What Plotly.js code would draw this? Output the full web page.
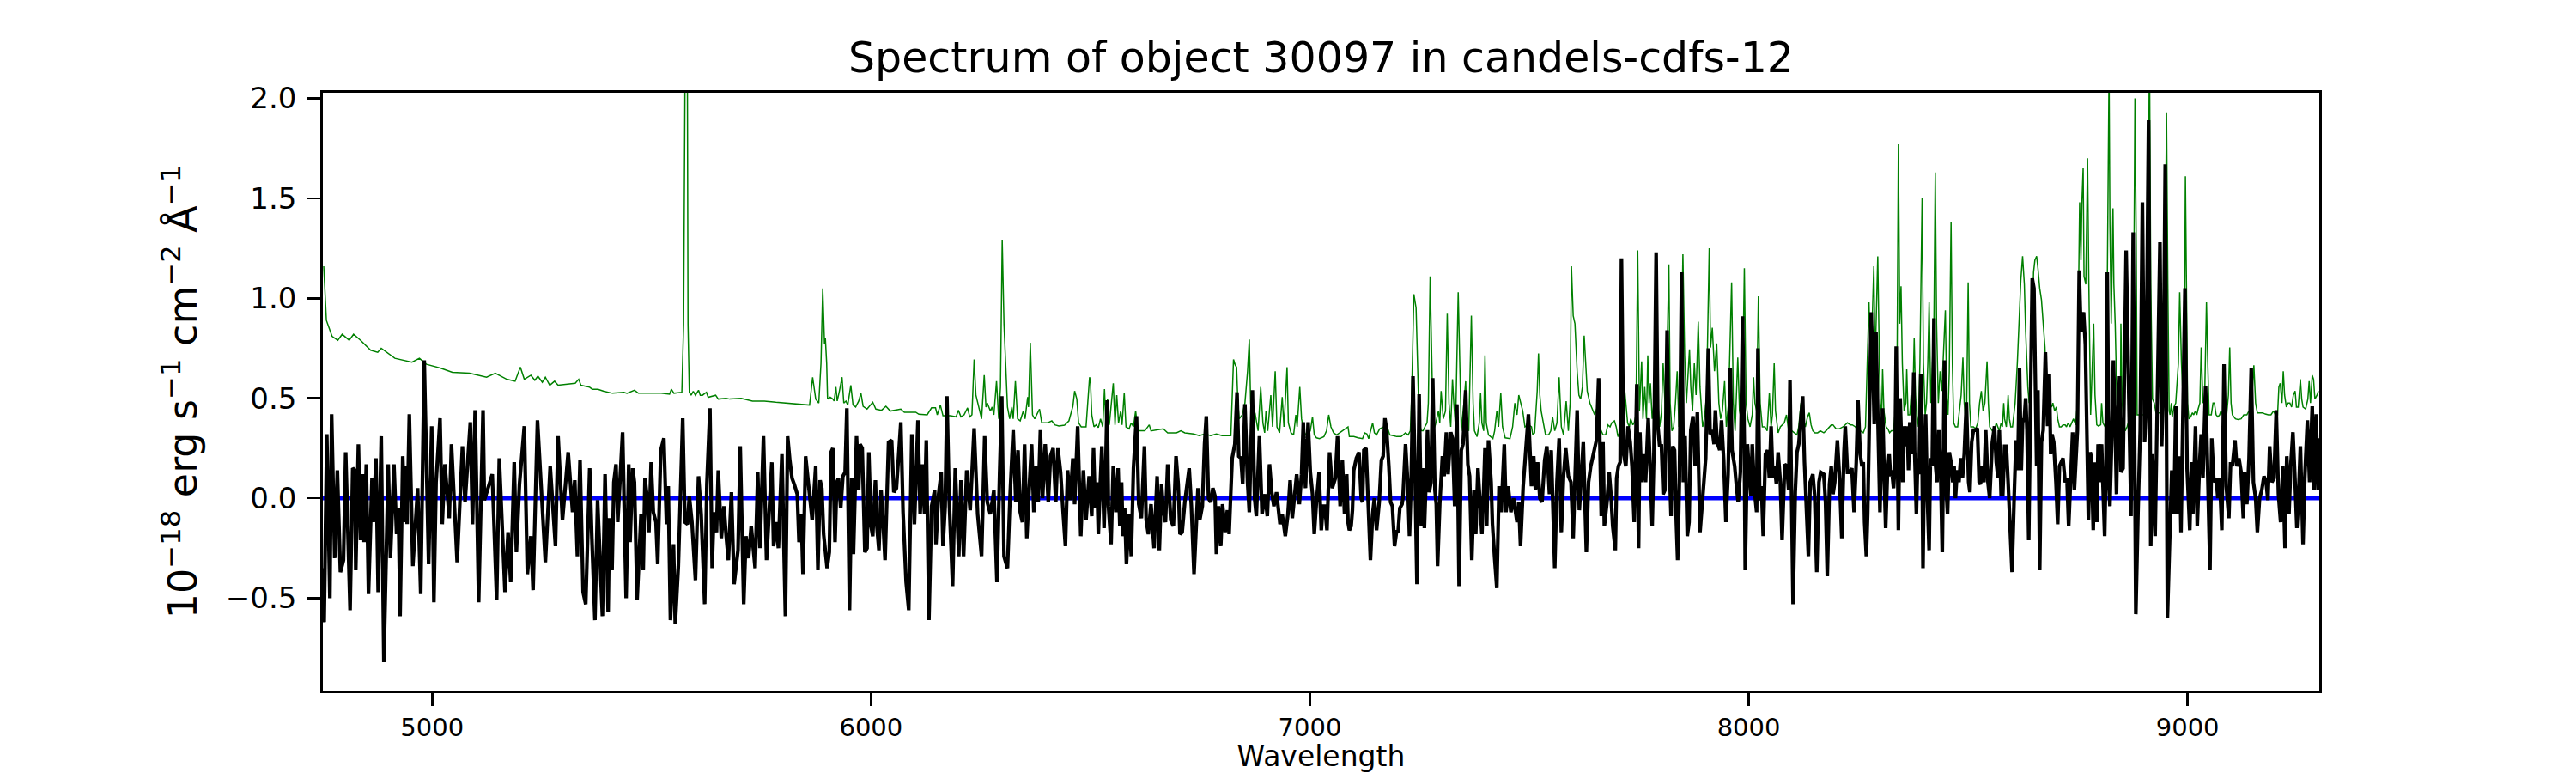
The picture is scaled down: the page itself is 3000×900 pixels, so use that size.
<!DOCTYPE html>
<html>
<head>
<meta charset="utf-8">
<script src="https://cdn.plot.ly/plotly-3.0.1.min.js"></script>
<style>
  html, body { margin: 0; padding: 0; background: #fff; }
  #spec { width: 3000px; height: 900px; }
</style>
</head>
<body>
<div id="spec"></div>

<script>
// flux of the object (black)
var fluxWave = [
 4751,4754,4760,4767,4771,4778,4784,4791,4798,4803,4813,4819,4824,4826,4832,4837,4842,4845,4850,4855,
 4863,4866,4872,4877,4884,4890,4900,4905,4913,4919,4923,4927,4933,4938,4941,4943,4948,4956,4967,4974,
 4982,4992,4999,5004,5009,5018,5023,5029,5039,5044,5057,5069,5075,5087,5092,5098,5106,5116,5119,5137,
 5147,5153,5166,5173,5179,5187,5192,5199,5210,5217,5225,5230,5240,5248,5258,5269,5281,5287,5297,5310,
 5320,5325,
 5331,5337,5344,5350,5359,5364,5371,5377,5383,5388,5394,5401,5404,5410,5414,5419,5423,5429,5434,5442,
 5448,5451,5457,5461,5467,5476,5481,5485,5489,5494,5499,5504,5510,5514,5521,5528,5534,5538,5543,5550,
 5554,5561,5571,5576,5582,5586,5592,5600,5607,5613,5621,5626,5633,5638,5642,5648,5652,5659,5665,5670,
 5675,5682,5688,5697,5702,5710,5715,5721,5727,5736,5742,5747,5755,5762,5768,5774,5778,5783,5789,5797,
 5805,5810,5815,5820,5825,5832,5836,5841,5845,5851,5858,5866,5874,5879,5884,5888,5892,5900,5905,5909,
 5913,
 5918,5922,5926,5931,5936,5941,5945,5951,5956,5960,5967,5972,5975,5980,5986,5991,5995,6000,6004,6010,
 6013,6018,6023,6027,6032,6040,6047,6052,6058,6068,6073,6080,6086,6093,6099,6107,6112,6117,6122,6126,
 6132,6138,6145,6148,6154,6160,6164,6169,6173,6178,6186,6192,6200,6205,6211,6218,6226,6235,6243,6252,
 6259,6265,6272,6280,6287,6293,6298,6303,6311,6317,6324,6330,6335,6340,6345,6350,6355,6361,6366,6371,
 6376,6381,6386,6391,6397,6404,6409,6415,6421,6426,6432,6438,6443,6448,6454,6460,6464,6471,6475,6478,
 6484,6490,6497,6500,
 6503,6507,6511,6515,6518,6521,6526,6531,6534,6538,6541,6547,6552,6558,6563,6567,6571,6574,6578,6582,
 6588,6593,6598,6605,6610,6616,6623,6627,6632,6638,6645,6649,6652,6657,6662,6666,6671,6676,6683,6689,
 6695,6700,6704,6709,6715,6725,6730,6736,6745,6749,6755,6760,6764,6769,6774,6779,6784,6787,6792,6797,
 6801,6807,6812,6816,6823,6829,6834,6838,6843,6847,6852,6858,6862,6869,6874,6878,6885,6891,6898,6903,
 6908,6913,6918,6924,6932,6937,6944,6950,6955,6960,6964,6970,6976,6981,6985,6990,6996,7001,7006,7010,
 7015,7021,7026,7030,7034,7039,7045,7051,7058,7063,7069,7074,7079,7084,7087,
 7090,7094,7097,7100,7106,7112,7117,7120,7123,7128,7133,7138,7143,7147,7152,7158,7163,7167,7171,7175,
 7180,7184,7188,7193,7198,7201,7205,7210,7212,7218,7223,7227,7231,7235,7240,7244,7249,7254,7257,7261,
 7265,7268,7272,7276,7280,7285,7288,7291,7296,7302,7306,7311,7315,7321,7325,7330,7335,7340,7345,7349,
 7355,7360,7364,7369,7374,7378,7383,7387,7392,7396,7399,7403,7407,7413,7416,7421,7426,7431,7436,7443,
 7447,7452,7458,7464,7472,7476,7480,7486,7493,7498,7505,7510,7514,7519,7524,7529,7535,7540,7546,7550,
 7558,7563,7568,7573,7578,7583,7589,7595,7600,7604,7609,7614,7619,7623,7630,7635,7640,7647,7653,7658,
 7661,7664,7668,7671,
 7677,7682,7686,7690,7696,7699,7703,7707,7710,7715,7720,7725,7730,7734,7739,7745,7749,7752,7756,7760,
 7765,7771,7775,7780,7784,7789,7793,7797,7801,7805,7809,7814,7819,7823,7827,7831,7835,7838,7842,7847,
 7851,7855,7860,7864,7868,7873,7878,7883,7889,7893,7897,7902,7908,7912,7917,7921,7924,7928,7934,7938,
 7943,7948,7953,7958,7962,7968,7972,7976,7981,7986,7990,7992,7997,8001,8005,8008,8013,8018,8021,8025,
 8029,8033,8038,8043,8047,8051,8055,8059,8063,8067,8072,8076,8082,8087,8091,8094,8098,8101,8106,8110,
 8114,8118,8123,8127,8132,8136,8140,8146,8150,8155,8160,8164,8171,8175,8179,8184,8188,8192,8196,8202,
 8207,8212,8217,8220,8225,8230,8235,8240,8245,8249,8254,8258,
 8261,8264,8268,8271,8274,8279,8283,8286,8290,8295,8299,8302,8305,8309,8312,8316,8320,8323,8326,8330,
 8333,8336,8339,8341,8345,8348,8351,8354,8358,8361,8364,8367,8372,8376,8378,8382,8385,8388,8392,8395,
 8397,8400,8403,8407,8411,8414,8418,8422,8425,8429,8433,8437,8441,8446,8449,8453,8457,8461,8465,8468,
 8471,8475,8479,8483,8487,8491,8496,8501,8504,8508,8512,8517,8521,8525,8528,8532,8536,8540,8545,8549,
 8555,8560,8564,8568,8571,8575,8579,8583,8587,8591,8596,8600,8605,8609,8613,8617,8621,8624,8628,8631,
 8634,8638,8642,8646,8650,8652,8656,8659,8663,8667,8671,8676,8681,8685,8688,8691,8695,8700,8704,8708,
 8712,8716,8721,8725,8729,8734,8738,8742,8745,8749,8753,8757,8760,8763,8767,8771,8774,8778,8781,8785,
 8788,8793,8796,8800,8804,8807,8811,8814,8817,8821,8823,8827,8831,8835,8838,8841,8845,8848,
 8853,8860,8866,8871,8876,8882,8887,8892,8897,8902,8905,8911,8916,8920,8926,8932,8937,8941,8945,8949,
 8954,8959,8964,8969,8973,8977,8982,8985,8990,8994,8999,9005,9009,9012,9018,9022,9027,9031,9035,9041,
 9046,9051,9055,9060,9065,9069,9073,9078,9083,9088,9094,9098,9102,9108,9112,9117,9122,9127,9130,9135,
 9140,9145,9150,9155,9159,9164,9169,9174,9179,9183,9187,9192,9197,9202,9207,9212,9217,9222,9226,9231,
 9235,9240,9245,9249,9252,9257,9263,9267,9273,9278,9284,9288,9293,9297,9300
];
var fluxValue = [
 -0.35,-0.62,0.32,-0.50,0.42,-0.30,0.14,-0.37,-0.31,0.23,-0.56,0.15,0.14,-0.36,0.27,-0.21,0.12,-0.22,0.17,-0.48,
 0.10,-0.12,0.20,-0.47,0.31,-0.82,0.17,-0.30,0.17,-0.18,-0.05,-0.59,0.21,-0.12,0.16,-0.13,0.42,-0.34,0.05,-0.48,
 0.69,-0.33,0.36,-0.52,0.08,0.40,-0.13,0.17,-0.10,0.27,-0.32,0.26,-0.02,0.38,-0.13,0.44,-0.52,0.44,-0.01,0.12,
 -0.51,0.20,-0.47,-0.17,-0.42,0.18,-0.27,0.07,0.36,-0.38,-0.19,-0.46,0.39,0.10,-0.32,0.16,-0.24,0.31,-0.11,0.23,
 -0.07,0.09,
 -0.29,0.19,-0.47,-0.53,0.15,-0.20,-0.61,-0.01,-0.31,-0.59,0.12,-0.57,-0.10,-0.36,0.08,0.17,-0.12,0.12,0.33,-0.50,
 0.17,-0.22,0.15,0.08,-0.51,-0.08,-0.36,0.10,0.02,-0.17,0.18,-0.07,-0.12,-0.33,0.24,0.30,-0.13,0.06,-0.61,-0.23,
 -0.63,-0.34,0.40,-0.12,-0.13,0.01,-0.12,-0.41,0.11,-0.08,-0.53,0.07,0.45,-0.35,-0.07,-0.17,0.14,-0.20,-0.04,-0.19,
 -0.31,0.03,-0.43,-0.26,0.26,-0.53,-0.19,-0.30,-0.14,-0.35,0.13,-0.25,0.31,-0.31,-0.10,0.18,-0.24,-0.12,-0.25,0.22,
 -0.59,0.31,0.19,0.10,0.07,0.02,-0.22,-0.08,-0.38,0.21,0.06,-0.11,0.16,-0.36,0.09,0.05,-0.18,-0.35,-0.27,0.23,
 0.25,
 -0.22,0.08,0.10,-0.05,0.11,0.13,0.45,-0.56,0.10,-0.28,0.31,0.04,0.27,0.25,-0.27,-0.25,0.23,-0.14,-0.19,0.09,
 -0.13,-0.26,0.04,-0.10,-0.31,0.28,0.29,0.03,0.05,0.38,-0.07,-0.42,-0.56,0.32,-0.13,0.39,-0.08,0.17,-0.08,0.29,
 -0.61,-0.04,0.04,-0.23,0.02,0.13,-0.24,-0.04,0.51,0.00,-0.44,0.15,-0.29,0.09,-0.29,0.14,-0.06,0.35,-0.08,-0.29,
 0.31,-0.02,-0.08,0.04,-0.42,0.12,0.51,-0.29,-0.35,0.02,0.34,-0.02,0.24,-0.07,-0.12,0.27,-0.20,0.07,0.27,-0.07,
 0.16,-0.02,0.34,0.00,0.27,-0.02,0.21,0.25,-0.02,0.25,0.13,-0.08,-0.24,0.14,-0.01,0.20,-0.03,0.36,-0.06,-0.19,
 0.14,-0.11,0.11,0.02,
 -0.09,0.25,-0.05,0.08,-0.18,0.00,0.26,-0.15,0.06,0.49,-0.04,-0.23,0.16,-0.07,0.15,-0.14,0.08,-0.19,-0.05,-0.33,
 -0.08,-0.29,0.15,0.41,-0.03,-0.10,0.26,-0.11,-0.18,-0.03,-0.25,-0.04,0.11,-0.26,0.07,-0.06,-0.12,0.17,-0.11,-0.14,
 0.21,0.07,-0.18,-0.17,-0.02,0.15,-0.04,-0.38,0.05,-0.11,-0.04,0.27,0.41,0.00,-0.02,0.05,0.01,-0.28,-0.04,-0.24,
 -0.03,-0.17,-0.06,-0.18,0.20,0.27,0.53,0.21,0.20,0.07,0.47,0.08,-0.07,0.54,0.00,-0.09,0.31,-0.08,0.02,-0.09,
 0.17,0.03,-0.04,0.03,-0.13,-0.08,-0.19,-0.08,0.09,-0.10,-0.02,0.12,-0.03,0.12,0.38,0.05,0.38,0.13,0.02,-0.18,
 -0.02,0.13,-0.16,-0.04,-0.04,-0.16,0.23,0.05,0.10,0.31,-0.04,0.19,-0.08,0.12,-0.12,
 -0.16,-0.14,-0.06,0.14,0.20,0.23,0.00,-0.02,0.24,0.25,-0.02,-0.31,-0.08,0.00,-0.16,-0.02,0.19,0.21,0.40,0.34,
 0.16,-0.02,-0.04,-0.24,-0.16,-0.17,-0.05,-0.03,0.00,0.27,0.08,-0.19,0.10,0.61,0.08,-0.43,0.52,-0.14,0.15,-0.15,
 0.11,0.34,0.03,0.08,0.60,0.04,-0.03,-0.34,-0.03,0.21,0.11,0.33,0.12,0.33,0.30,-0.04,0.47,-0.44,0.24,0.27,
 0.54,0.17,0.11,-0.31,0.04,-0.18,0.15,-0.02,-0.18,0.04,0.25,-0.14,0.29,0.08,-0.13,-0.30,-0.45,0.06,-0.07,0.27,
 -0.07,0.06,-0.07,0.00,-0.12,-0.02,-0.24,0.06,0.29,0.42,0.06,0.21,0.04,0.18,0.00,-0.02,0.19,0.26,0.02,0.24,
 -0.35,0.08,0.30,-0.17,0.11,0.25,0.11,0.08,-0.20,0.04,0.44,-0.06,0.11,0.28,-0.27,0.08,0.16,0.24,0.29,0.60,
 0.16,-0.09,0.28,-0.14,
 -0.02,0.13,0.02,-0.14,-0.26,0.10,0.16,0.18,1.20,0.22,0.16,0.36,0.28,0.16,-0.12,0.57,-0.25,0.33,0.08,0.22,
 0.08,0.40,0.18,-0.14,0.23,1.23,0.36,0.26,0.27,0.02,0.04,0.84,0.18,-0.09,0.26,0.24,-0.12,-0.31,0.08,1.13,
 0.08,0.31,-0.19,-0.12,0.34,0.41,0.16,0.43,-0.17,-0.04,0.06,0.20,0.75,0.32,0.34,0.27,0.44,0.28,0.24,0.39,
 0.19,-0.12,0.12,0.65,0.24,0.16,0.06,-0.02,0.13,0.91,0.26,-0.36,0.27,0.16,0.01,0.27,0.04,-0.07,0.75,-0.01,
 0.06,-0.19,0.22,0.24,0.10,0.36,0.10,0.16,0.07,0.23,0.08,-0.21,0.17,0.16,0.04,0.59,-0.22,-0.53,0.03,0.23,
 0.27,0.36,0.51,0.18,-0.08,-0.29,0.08,0.12,0.02,-0.37,0.08,0.13,0.12,-0.02,-0.39,0.07,0.16,0.02,0.08,0.29,
 0.10,-0.20,0.23,0.36,0.13,0.13,0.15,-0.07,0.18,0.49,0.22,0.16,
 0.18,-0.12,-0.29,-0.08,0.28,0.93,0.67,0.37,0.83,0.36,-0.07,0.22,0.45,0.08,-0.15,0.12,0.22,0.11,0.14,0.05,
 0.16,0.76,0.32,-0.16,0.50,0.28,0.08,0.36,0.26,0.36,0.14,0.38,0.22,0.63,0.24,-0.08,0.20,0.12,0.62,0.18,
 -0.35,0.20,0.42,0.00,-0.26,0.20,0.16,0.90,0.18,0.08,0.34,0.16,-0.27,0.69,0.08,-0.08,0.23,0.18,0.08,0.16,
 0.00,0.14,0.08,0.20,0.10,0.22,0.48,0.08,0.03,0.28,0.34,0.34,0.35,0.08,0.07,0.16,0.08,0.34,0.08,0.00,
 0.28,0.36,0.18,0.10,0.34,0.02,0.02,0.26,0.26,0.08,-0.14,-0.37,0.02,0.29,0.14,0.65,0.14,0.38,0.40,0.50,
 0.34,-0.21,0.48,1.10,1.05,0.79,0.16,0.54,-0.36,0.28,0.34,0.73,0.36,0.62,0.22,0.32,0.28,0.08,-0.13,0.16,
 0.18,0.20,0.08,0.10,-0.14,0.16,0.33,0.04,0.20,0.34,1.14,0.83,0.91,0.93,0.77,0.38,-0.11,0.23,0.20,-0.16,
 0.18,-0.12,0.27,0.08,0.27,0.07,-0.19,0.16,1.13,0.06,-0.04,0.28,0.69,0.36,0.02,0.40,0.61,0.13,
 0.15,1.24,0.48,-0.09,1.33,-0.58,-0.07,0.34,1.48,0.28,0.42,1.89,-0.24,0.22,-0.19,0.67,1.28,0.26,0.58,1.67,
 -0.60,-0.22,0.14,-0.08,0.46,-0.08,0.21,-0.17,0.44,1.05,0.14,-0.16,0.18,-0.08,0.36,-0.14,0.16,0.32,0.10,0.56,
 0.11,-0.36,0.30,0.08,0.10,0.00,0.10,-0.16,0.67,0.06,-0.10,0.18,0.16,0.29,0.16,0.20,0.13,-0.10,0.13,-0.03,
 0.20,0.65,0.08,0.00,-0.17,0.00,0.04,0.11,0.08,-0.01,0.26,0.08,0.10,0.44,0.02,-0.12,0.16,-0.25,0.21,-0.08,
 0.16,0.33,0.08,-0.15,-0.04,0.26,-0.23,0.10,0.39,0.08,0.46,0.04,0.42,0.04,0.30
];

// noise / error spectrum (green); sky lines at 5577 and 8820-8913 run off the top
var noiseWave = [
 4753,4759,4772,4785,4795,4811,4821,4837,4860,4876,4884,4915,4954,4971,4987,5020,5046,5085,5124,5144,
 5170,5189,5201,5210,5225,5234,5241,5251,5258,5268,5279,5287,5326,
 5334,5339,5359,5365,5378,5391,5411,5437,5444,5461,5470,5496,5522,5541,5545,5551,5569,5573,5575,5578,
 5581,5583,5586,5590,5595,5600,5607,5611,5616,5625,5629,5646,5652,5670,5678,5704,5730,5757,5783,5809,
 5835,5860,5867,5874,5881,5886,5890,5894,5896,5899,5901,5907,5913,
 5916,5920,5923,5928,5934,5938,5943,5947,5954,5959,5965,5972,5977,5982,5991,6004,6011,6024,6034,6044,
 6068,6076,6102,6109,6128,6138,6147,6151,6158,6164,6181,6194,6199,6205,6212,6220,6225,6230,6235,6239,
 6246,6252,6258,6262,6265,6272,6276,6280,6286,6291,6295,6299,6303,6307,6311,6316,6321,6324,6329,6334,
 6340,6347,6351,6357,6359,6363,6368,6373,6379,6384,6389,6402,6412,6419,6428,6441,6451,6460,6464,6469,
 6473,6479,6490,6495,6498,6500,
 6503,6508,6513,6518,6523,6528,6532,6535,6539,6543,6548,6552,6556,6560,6564,6569,6572,6577,6581,6588,
 6593,6598,6603,6608,6624,6634,6638,6666,6676,6696,6706,6715,6735,6748,6761,6774,6787,6800,6820,6826,
 6830,6833,6836,6839,6846,6852,6858,6862,6865,6870,6875,6882,6888,6893,6897,6900,6904,6911,6915,6921,
 6925,6931,6937,6941,6948,6951,6957,6963,6968,6971,6977,6981,6986,6991,6996,7001,7006,7010,7015,7022,
 7032,7038,7043,7048,7054,7061,7068,7081,7087,
 7090,7100,7110,7120,7125,7130,7134,7139,7143,7147,7152,7159,7169,7175,7182,7190,7198,7208,7218,7224,
 7229,7232,7237,7242,7246,7249,7254,7258,7262,7267,7270,7274,7278,7281,7286,7293,7296,7299,7304,7309,
 7313,7317,7321,7325,7328,7332,7338,7342,7345,7351,7355,7358,7362,7368,7372,7375,7381,7386,7389,7392,
 7396,7399,7402,7407,7417,7421,7426,7430,7435,7439,7445,7456,7462,7467,7472,7476,7481,7485,7490,7498,
 7505,7508,7512,7518,7521,7524,7527,7532,7537,7544,7549,7553,7558,7563,7568,7573,7578,7584,7589,7593,
 7596,7600,7604,7609,7613,7617,7621,7625,7629,7632,7638,7645,7649,7655,7660,7668,7674,
 7679,7684,7688,7694,7698,7702,7707,7712,7716,7720,7724,7728,7731,7736,7739,7743,7747,7751,7756,7759,
 7763,7767,7770,7773,7776,7780,7785,7788,7793,7797,7801,7805,7808,7811,7818,7821,7825,7829,7833,7837,
 7841,7845,7850,7854,7858,7861,7865,7868,7872,7876,7880,7885,7889,7895,7899,7904,7910,7913,7917,7922,
 7927,7932,7936,7940,7945,7949,7954,7961,7965,7969,7975,7979,7983,7986,7990,7994,7998,8003,8008,8011,
 8014,8018,8022,8026,8031,8037,8042,8047,8051,8054,8058,8061,8067,8072,8076,8081,8086,8091,8098,8104,
 8110,8114,8119,8124,8129,8134,8138,8142,8146,8151,8157,8163,8171,8176,8183,8188,8192,8199,8206,8215,
 8225,8232,8236,8243,8249,8254,8261,
 8266,8270,8274,8278,8281,8285,8288,8291,8294,8298,8300,8303,8305,8308,8311,8313,8317,8321,8325,8330,
 8334,8338,8341,8344,8347,8350,8354,8358,8360,8363,8367,8370,8373,8377,8380,8384,8387,8390,8395,8398,
 8402,8405,8408,8411,8415,8419,8422,8425,8428,8432,8436,8440,8444,8448,8451,8454,8457,8461,8464,8467,
 8471,8476,8480,8484,8488,8491,8496,8500,8503,8506,8512,8517,8522,8526,8530,8534,8538,8543,8546,8549,
 8555,8560,8564,8568,8571,8575,8578,8581,8583,8587,8591,8594,8597,8601,8607,8612,8616,8620,8624,8628,
 8631,8636,8639,8643,8646,8649,8652,8656,8659,8663,8667,8671,8675,8678,8682,8686,8690,8693,8697,8701,
 8704,8708,8712,8716,8721,8724,8728,8732,8736,8740,8745,8749,8751,8754,8757,8759,8762,8764,8768,8772,
 8775,8779,8783,8786,8789,8793,8797,8802,8804,8807,8812,8815,8817,8821,8823,8826,8830,8832,8835,8839,
 8843,8847,8848,
 8851,8855,8858,8862,8868,8873,8877,8880,8883,8885,8889,8894,8899,8904,8908,8911,8913,8916,8920,8924,
 8928,8933,8939,8946,8950,8952,8955,8958,8960,8963,8965,8969,8973,8979,8982,8986,8990,8993,8995,8997,
 9000,9003,9007,9011,9014,9018,9021,9024,9028,9031,9035,9039,9041,9043,9046,9049,9054,9058,9061,9065,
 9069,9073,9076,9080,9084,9089,9093,9096,9099,9102,9109,9115,9122,9128,9135,9140,9143,9147,9151,9155,
 9159,9164,9171,9177,9184,9190,9196,9200,9205,9208,9211,9215,9218,9221,9225,9229,9233,9237,9241,9245,
 9248,9252,9257,9260,9263,9269,9274,9277,9280,9284,9287,9290,9295,9298
];
var noiseValue = [
 1.16,0.89,0.81,0.79,0.82,0.79,0.82,0.79,0.74,0.73,0.75,0.70,0.68,0.70,0.67,0.65,0.63,0.625,0.605,0.625,
 0.595,0.585,0.655,0.595,0.615,0.59,0.61,0.58,0.605,0.565,0.585,0.565,0.575,
 0.595,0.565,0.555,0.545,0.545,0.535,0.525,0.53,0.525,0.54,0.525,0.525,0.525,0.52,0.545,0.525,0.53,0.87,2.6,2.8,
 2.6,0.87,0.53,0.515,0.535,0.515,0.54,0.515,0.515,0.53,0.505,0.515,0.496,0.50,0.496,0.50,0.486,0.486,0.48,0.476,
 0.472,0.466,0.605,0.496,0.476,0.675,1.05,0.774,0.80,0.675,0.496,0.505,0.496,
 0.486,0.556,0.486,0.536,0.605,0.476,0.486,0.466,0.565,0.466,0.456,0.486,0.526,0.46,0.446,0.48,0.446,0.44,0.46,0.436,
 0.446,0.43,0.43,0.42,0.417,0.452,0.452,0.417,0.466,0.413,0.413,0.407,0.44,0.407,0.417,0.452,0.407,0.417,0.694,0.516,
 0.456,0.397,0.615,0.456,0.476,0.436,0.456,0.417,0.585,0.397,0.556,1.29,0.873,0.675,0.456,0.397,0.456,0.397,0.585,0.397,
 0.387,0.436,0.397,0.506,0.456,0.778,0.417,0.397,0.427,0.446,0.377,0.377,0.387,0.367,0.361,0.365,0.387,0.46,0.536,0.496,
 0.377,0.357,0.357,0.496,0.605,0.585,
 0.417,0.357,0.367,0.353,0.397,0.357,0.546,0.387,0.496,0.367,0.476,0.575,0.367,0.516,0.377,0.437,0.367,0.526,0.357,0.347,
 0.377,0.357,0.437,0.337,0.337,0.367,0.337,0.347,0.327,0.327,0.337,0.327,0.321,0.313,0.321,0.313,0.321,0.313,0.313,0.694,
 0.665,0.655,0.476,0.397,0.417,0.476,0.635,0.794,0.476,0.377,0.427,0.337,0.556,0.377,0.327,0.437,0.337,0.516,0.357,0.635,
 0.357,0.327,0.506,0.357,0.655,0.377,0.327,0.317,0.417,0.357,0.556,0.397,0.337,0.317,0.317,0.337,0.407,0.317,0.302,0.298,
 0.308,0.337,0.417,0.357,0.327,0.317,0.327,0.347,0.357,
 0.308,0.308,0.302,0.298,0.327,0.321,0.298,0.337,0.377,0.327,0.317,0.347,0.357,0.367,0.317,0.313,0.308,0.308,0.327,0.317,
 0.337,0.516,1.02,0.952,0.675,0.377,0.337,0.337,0.357,0.377,0.476,1.11,0.675,0.337,0.367,0.437,0.377,0.536,0.397,0.437,
 0.923,0.476,0.357,0.595,0.476,0.357,1.03,0.675,0.337,0.476,0.585,0.357,0.337,0.913,0.476,0.337,0.308,0.377,0.526,0.377,
 0.337,0.714,0.377,0.317,0.298,0.337,0.437,0.357,0.526,0.357,0.302,0.298,0.357,0.476,0.417,0.516,0.476,0.437,0.357,0.367,
 0.357,0.317,0.327,0.536,0.724,0.516,0.437,0.367,0.317,0.317,0.337,0.407,0.337,0.377,0.605,0.357,0.317,0.486,0.337,0.476,
 1.16,0.913,0.873,0.635,0.516,0.496,0.556,0.813,0.635,0.536,0.476,0.437,0.417,0.456,0.357,0.317,0.317,
 0.367,0.357,0.377,0.387,0.357,0.308,0.337,0.417,0.575,0.476,0.377,0.357,0.397,0.367,0.377,0.417,1.24,0.437,0.684,0.397,
 0.556,0.397,0.714,0.476,0.575,0.397,0.496,0.367,0.476,0.357,0.427,0.675,0.536,0.387,1.17,0.476,0.337,0.357,0.476,0.635,
 0.357,0.516,1.22,0.714,0.476,0.605,0.744,0.556,0.437,0.675,0.516,0.883,0.556,0.357,0.397,0.516,1.25,0.754,0.853,0.635,
 0.774,0.476,0.397,0.437,0.585,0.357,0.476,1.08,0.476,0.337,0.704,0.437,0.397,0.556,1.15,0.476,0.397,0.357,0.417,0.605,
 0.476,0.437,1.01,0.476,0.357,0.357,0.337,0.526,0.357,0.417,0.675,0.437,0.327,0.357,0.367,0.377,0.417,0.337,0.337,0.327,
 0.317,0.357,0.476,0.397,0.357,0.407,0.427,0.367,0.337,0.327,0.327,0.337,0.327,0.337,0.357,0.367,0.367,0.347,0.347,0.357,
 0.377,0.367,0.367,0.357,0.337,0.337,0.327,
 0.357,0.675,0.98,0.635,0.873,1.16,0.675,0.952,1.21,0.635,0.476,0.417,0.645,0.437,0.397,0.357,0.347,0.327,0.337,0.337,
 0.437,0.675,1.77,0.873,1.06,0.675,0.437,0.476,0.645,0.417,0.417,0.516,0.397,0.80,0.516,0.357,0.417,0.675,1.50,0.675,
 0.417,0.476,0.675,0.98,0.476,0.675,0.873,1.63,0.873,0.476,0.635,0.536,0.754,0.94,0.516,0.417,0.635,1.38,0.675,0.377,
 0.357,0.357,0.437,0.516,0.704,0.476,0.357,1.08,0.476,0.357,0.357,0.347,0.377,0.476,0.536,0.437,0.476,0.684,0.476,0.357,
 0.337,0.341,0.377,0.357,0.337,0.377,0.357,0.476,0.397,0.357,0.516,0.397,0.357,0.357,0.476,0.675,0.913,1.09,1.21,1.07,
 0.833,0.556,0.476,0.516,0.873,1.13,1.19,1.21,1.15,1.05,0.992,0.873,0.754,0.516,0.476,0.476,0.456,0.476,0.437,0.456,
 0.397,0.357,0.357,0.367,0.367,0.357,0.377,0.357,0.377,0.397,0.367,0.476,0.933,1.48,1.19,1.47,1.65,1.11,1.07,1.70,
 1.07,0.417,0.675,0.873,0.516,0.367,0.361,0.367,0.476,0.377,0.357,0.357,1.07,2.15,1.37,0.873,1.45,1.07,0.873,0.476,
 0.357,0.476,0.873,
 0.476,0.377,0.337,0.357,0.397,0.437,0.873,2.00,1.27,0.417,0.417,0.417,0.417,0.437,0.675,1.47,2.30,1.07,0.496,0.476,
 0.427,0.427,0.427,0.456,1.27,1.93,1.07,0.437,0.417,0.476,0.407,0.456,0.476,0.675,1.03,0.675,0.476,0.873,1.61,1.07,
 0.476,0.397,0.407,0.427,0.417,0.437,0.417,0.446,0.476,0.754,0.476,0.516,0.833,0.98,0.675,0.417,0.417,0.476,0.476,0.417,
 0.407,0.417,0.437,0.417,0.417,0.417,0.516,0.754,0.476,0.417,0.397,0.393,0.397,0.417,0.417,0.437,0.417,0.516,0.665,0.476,
 0.427,0.427,0.427,0.421,0.417,0.417,0.437,0.417,0.417,0.556,0.575,0.476,0.635,0.516,0.456,0.476,0.476,0.456,0.516,0.536,
 0.456,0.456,0.595,0.496,0.456,0.446,0.496,0.585,0.476,0.615,0.595,0.496,0.516,0.536
];

// model continuum (blue), flat at zero across the band
var modelWave = [4751, 9300];
var modelValue = [0, 0];

var xTicks = [5000, 6000, 7000, 8000, 9000];
var yTicks = [-0.5, 0, 0.5, 1.0, 1.5, 2.0];

var traces = [
  {x: modelWave, y: modelValue, mode: 'lines', type: 'scatter',
   line: {color: '#0000ff', width: 5}, hoverinfo: 'skip'},
  {x: noiseWave, y: noiseValue, mode: 'lines', type: 'scatter',
   line: {color: '#008000', width: 1.5}},
  {x: fluxWave, y: fluxValue, mode: 'lines', type: 'scatter',
   line: {color: '#000000', width: 4.2}}
];

var layout = {
  width: 3000,
  height: 900,
  showlegend: false,
  paper_bgcolor: '#ffffff',
  plot_bgcolor: '#ffffff',
  font: {family: 'DejaVu Sans', color: '#000000'},
  margin: {l: 376, r: 299, t: 108, b: 96, pad: 0},
  title: {
    text: 'Spectrum of object 30097 in candels-cdfs-12',
    font: {size: 49, family: 'DejaVu Sans'},
    x: 0.5, xref: 'paper', xanchor: 'center',
    y: 1 - 67 / 900, yref: 'container', yanchor: 'middle'
  },
  xaxis: {
    range: [4751, 9300],
    tickvals: xTicks,
    ticktext: xTicks.map(String),
    ticks: 'outside', ticklen: 15, tickwidth: 2.5, tickcolor: '#000',
    tickfont: {size: 29},
    ticklabelstandoff: 0,
    showline: true, linecolor: '#000', linewidth: 2.8, mirror: true,
    showgrid: false, zeroline: false,
    title: {text: 'Wavelength', font: {size: 33}, standoff: 14}
  },
  yaxis: {
    range: [-0.962, 2.028],
    tickvals: yTicks,
    tickformat: '.1f',
    ticks: 'outside', ticklen: 16, tickwidth: 2.5, tickcolor: '#000',
    tickfont: {size: 34},
    ticklabelstandoff: 5,
    showline: true, linecolor: '#000', linewidth: 2.8, mirror: true,
    showgrid: false, zeroline: false,
    title: {
      text: '10<sup>\u221218</sup> erg s<sup>\u22121</sup> cm<sup>\u22122</sup> \u00c5<sup>\u22121</sup>',
      font: {size: 46}, standoff: 19
    }
  }
};

Plotly.newPlot('spec', traces, layout, {staticPlot: true});
</script>
</body>
</html>
